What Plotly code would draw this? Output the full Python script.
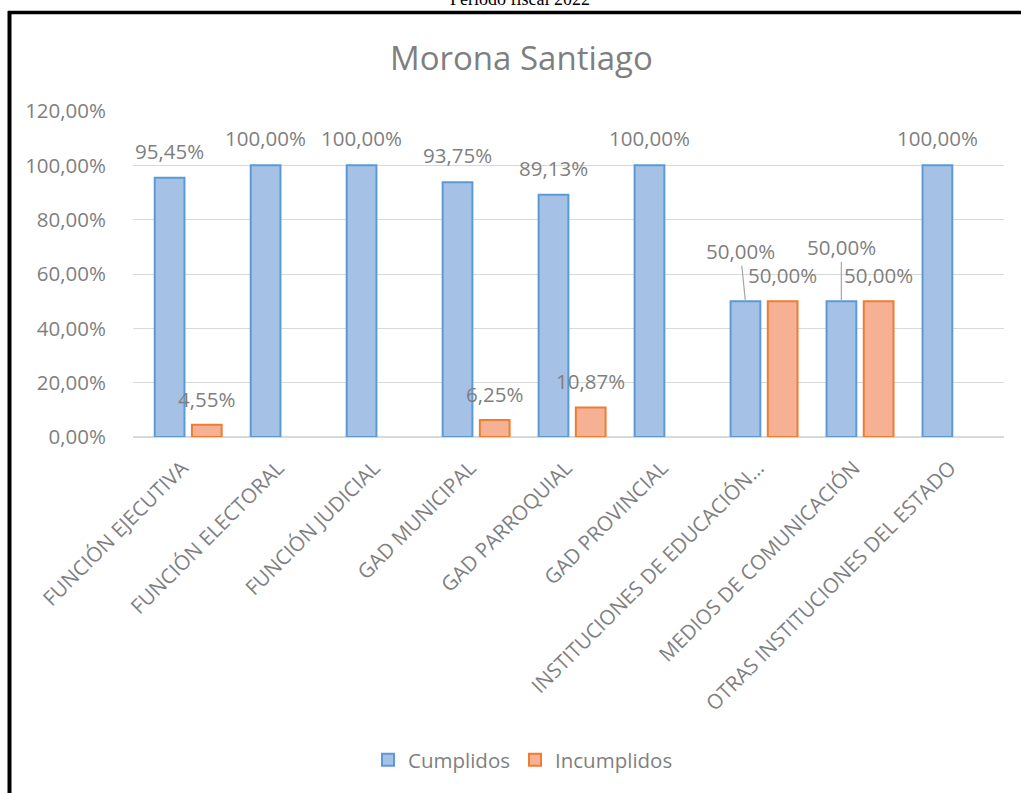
import plotly.graph_objects as go

categories = ["FUNCIÓN EJECUTIVA", "FUNCIÓN ELECTORAL", "FUNCIÓN JUDICIAL", "GAD MUNICIPAL",
              "GAD PARROQUIAL", "GAD PROVINCIAL", "INSTITUCIONES DE EDUCACIÓN…",
              "MEDIOS DE COMUNICACIÓN", "OTRAS INSTITUCIONES DEL ESTADO"]
cumplidos = [0.9545, 1.0, 1.0, 0.9375, 0.8913, 1.0, 0.50, 0.50, 1.0]
incumplidos = [0.0455, None, None, 0.0625, 0.1087, None, 0.50, 0.50, None]

title = "Morona Santiago"
header = "Período fiscal 2022"

W, H = 1021, 793
L, R, T, B = 133, 17, 111, 356
pw, ph = W - L - R, H - T - B

def px_x(p):
    return (p - L) / pw

def px_y(p):
    return (H - B - p) / ph

GRAY = "#7f7f7f"
FONT = "'Open Sans', Lato, sans-serif"

fig = go.Figure()
fig.add_trace(go.Bar(name="Cumplidos", x=categories, y=cumplidos,
                     marker=dict(color="#a5c1e6", line=dict(color="#5b9bd5", width=2))))
fig.add_trace(go.Bar(name="Incumplidos", x=categories, y=incumplidos,
                     marker=dict(color="#f6b194", line=dict(color="#ed7d31", width=2))))

annotations = []
off = 18.7
LBL = 20.5
for i, c in enumerate(categories):
    v = cumplidos[i]
    if v is not None:
        txt = f"{v*100:.2f}%".replace(".", ",")
        if c.startswith("INSTITUCIONES") or c.startswith("MEDIOS"):
            ax = -5 if c.startswith("INSTITUCIONES") else 0
            ay = -50 if c.startswith("INSTITUCIONES") else -54
            annotations.append(dict(x=c, y=v, xref="x", yref="y", text=txt, xshift=-off,
                                    showarrow=True, arrowhead=0, arrowwidth=1.2,
                                    arrowcolor="#a6a6a6", ax=ax, ay=ay, standoff=0,
                                    borderpad=0,
                                    font=dict(size=LBL, color=GRAY, family=FONT)))
        else:
            annotations.append(dict(x=c, y=v, xref="x", yref="y", text=txt, xshift=-off,
                                    yshift=11, yanchor="bottom", showarrow=False,
                                    font=dict(size=LBL, color=GRAY, family=FONT)))
    w = incumplidos[i]
    if w is not None:
        txt = f"{w*100:.2f}%".replace(".", ",")
        annotations.append(dict(x=c, y=w, xref="x", yref="y", text=txt, xshift=off,
                                yshift=11, yanchor="bottom", showarrow=False,
                                borderpad=0,
                                font=dict(size=LBL, color=GRAY, family=FONT)))

annotations.append(dict(x=px_x(521.5), y=px_y(57), xref="paper", yref="paper", text=title,
                        showarrow=False, xanchor="center", yanchor="middle",
                        font=dict(size=33, color=GRAY, family=FONT)))
annotations.append(dict(x=px_x(520), y=px_y(-1), xref="paper", yref="paper", text=header,
                        showarrow=False, xanchor="center", yanchor="middle",
                        font=dict(size=18, color="#000000", family="'Liberation Serif', serif")))

shapes = [
    dict(type="line", xref="paper", yref="paper", x0=px_x(8), x1=px_x(1025),
         y0=px_y(12.5), y1=px_y(12.5), line=dict(color="#000000", width=3.5)),
    dict(type="line", xref="paper", yref="paper", x0=px_x(9.5), x1=px_x(9.5),
         y0=px_y(11), y1=px_y(800), line=dict(color="#000000", width=4)),
]

fig.update_layout(
    width=W, height=H,
    margin=dict(l=L, r=R, t=T, b=B, autoexpand=False),
    paper_bgcolor="white", plot_bgcolor="white",
    barmode="group", bargap=0.225, bargroupgap=0.2,
    separators=",.",
    showlegend=True,
    legend=dict(orientation="h", x=px_x(523), xanchor="center", y=px_y(760), yanchor="middle",
                font=dict(size=20.5, color=GRAY, family=FONT), itemwidth=30),
    annotations=annotations,
    shapes=shapes,
)
fig.update_yaxes(range=[0, 1.2], dtick=0.2, tickformat=".2%", showgrid=True,
                 gridcolor="#d9d9d9", gridwidth=1, zeroline=True, zerolinecolor="#d9d9d9",
                 zerolinewidth=1.5, ticks="", ticklen=0, ticklabelstandoff=26,
                 tickfont=dict(size=20.5, color=GRAY, family=FONT))
fig.update_xaxes(tickangle=-45, showgrid=False, ticks="", showline=False,
                 ticklabelstandoff=14, ticklabelshift=-6,
                 tickfont=dict(size=20.5, color=GRAY, family=FONT))

fig.write_html("out.html", config={"displayModeBar": False},
               post_script="document.body.style.margin='0';")
